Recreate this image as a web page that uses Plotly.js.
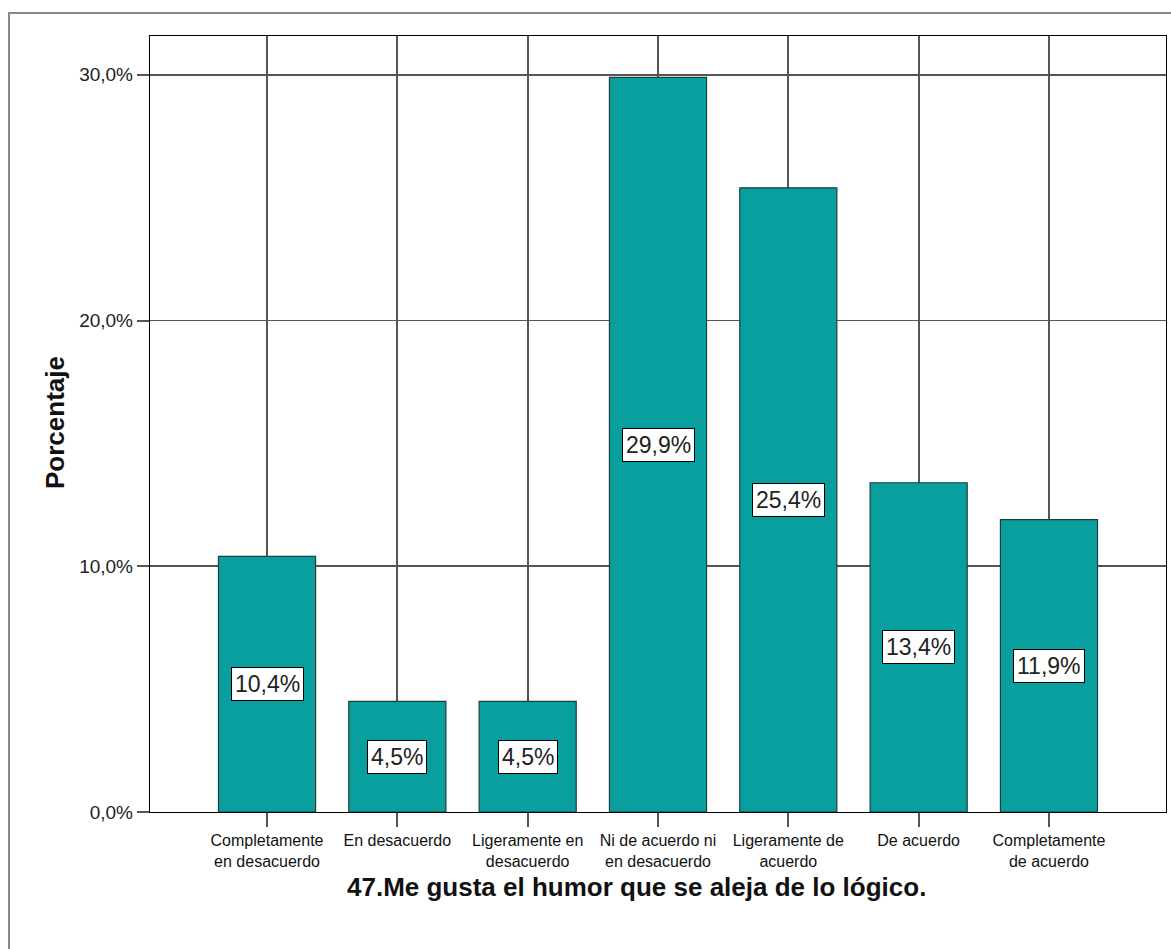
<!DOCTYPE html>
<html>
<head>
<meta charset="utf-8">
<script src="https://cdn.plot.ly/plotly-3.0.1.min.js"></script>
<style>
html,body{margin:0;padding:0;background:#fff;}
#chart{width:1171px;height:949px;}
</style>
</head>
<body>
<div id="chart"></div>
<script>
const categories = [
  "Completamente<br>en desacuerdo",
  "En desacuerdo",
  "Ligeramente en<br>desacuerdo",
  "Ni de acuerdo ni<br>en desacuerdo",
  "Ligeramente de<br>acuerdo",
  "De acuerdo",
  "Completamente<br>de acuerdo"
];
const values = [10.4, 4.5, 4.5, 29.9, 25.4, 13.4, 11.9];
const yTicks = [0, 10, 20, 30];
const xTitle = "47.Me gusta el humor que se aleja de lo lógico.";
const yTitle = "Porcentaje";

const idx = categories.map((c, i) => i);
const fmt = v => v.toFixed(1).replace('.', ',') + '%';
const FONT = 'Liberation Sans, Arial, sans-serif';

const trace = {
  type: 'bar',
  x: idx,
  y: values,
  width: 0.745,
  marker: {color: '#0a9f9f', line: {color: '#1f3d3d', width: 1.2}},
  hoverinfo: 'none'
};

const labelAnnotations = values.map((v, i) => ({
  x: i, y: v / 2, xref: 'x', yref: 'y',
  text: fmt(v), showarrow: false,
  font: {family: FONT, size: 23, color: '#222'},
  bgcolor: '#ffffff', bordercolor: '#000', borderwidth: 1, borderpad: 3
}));

const L = 150, T = 36, W = 1016, H = 776;
const px = X => (X - L) / W;
const py = Y => 1 - (Y - T) / H;

const layout = {
  width: 1171, height: 949,
  margin: {l: L, r: 1171 - L - W, t: T, b: 949 - T - H, pad: 0},
  paper_bgcolor: '#fff', plot_bgcolor: '#fff',
  separators: ',.',
  showlegend: false,
  font: {family: FONT, color: '#222'},
  xaxis: {
    range: [-0.898, 6.898],
    tickmode: 'array', tickvals: idx, ticktext: categories,
    tickfont: {size: 16, color: '#111'},
    ticks: 'outside', ticklen: 14, tickwidth: 2, tickcolor: '#555',
    showgrid: true, gridcolor: '#555', gridwidth: 1.8,
    showline: true, linecolor: '#000', linewidth: 1.2, mirror: true,
    zeroline: false, fixedrange: true
  },
  yaxis: {
    range: [0, 31.58],
    tickmode: 'array', tickvals: yTicks,
    ticktext: yTicks.map(v => v.toFixed(1).replace('.', ',') + '%'),
    tickfont: {size: 19, color: '#222'},
    ticks: 'outside', ticklen: 12, tickwidth: 2, tickcolor: '#555',
    showgrid: true, gridcolor: '#555', gridwidth: 1.8,
    showline: true, linecolor: '#000', linewidth: 1.2, mirror: true,
    zeroline: false, fixedrange: true
  },
  annotations: labelAnnotations.concat([
    {x: px(636), y: py(887), xref: 'paper', yref: 'paper', xanchor: 'center', yanchor: 'middle',
     text: '<b>' + xTitle + '</b>', showarrow: false,
     font: {family: FONT, size: 26, color: '#111'}},
    {x: px(55), y: py(423), xref: 'paper', yref: 'paper', xanchor: 'center', yanchor: 'middle',
     text: '<b>' + yTitle + '</b>', showarrow: false, textangle: -90,
     font: {family: FONT, size: 26, color: '#111'}}
  ]),
  shapes: [
    {type: 'rect', xref: 'paper', yref: 'paper', x0: px(9), y0: py(13), x1: px(1200), y1: py(1000),
     line: {color: '#888', width: 2}, fillcolor: 'rgba(0,0,0,0)', layer: 'below'}
  ]
};

Plotly.newPlot('chart', [trace], layout, {displayModeBar: false, staticPlot: true});
</script>
</body>
</html>
